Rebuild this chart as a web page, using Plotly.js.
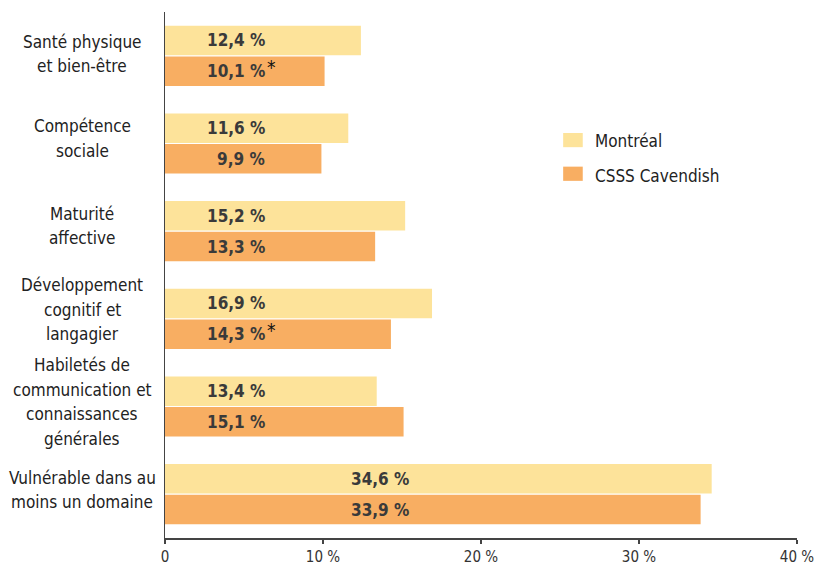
<!DOCTYPE html>
<html>
<head>
<meta charset="utf-8">
<script src="https://cdn.plot.ly/plotly-3.0.1.min.js"></script>
<style>html,body{margin:0;padding:0;background:#fff;}#chart{width:816px;height:566px;}</style>
</head>
<body>
<div id="chart"></div>
<script>
var categories = [
  "Santé physique<br>et bien-être",
  "Compétence<br>sociale",
  "Maturité<br>affective",
  "Développement<br>cognitif et<br>langagier",
  "Habiletés de<br>communication et<br>connaissances<br>générales",
  "Vulnérable dans au<br>moins un domaine"
];
var montreal = [12.4, 11.6, 15.2, 16.9, 13.4, 34.6];
var cavendish = [10.1, 9.9, 13.3, 14.3, 15.1, 33.9];
var cavendishFlag = [true, false, false, true, false, false];
var seriesNames = ["Montréal", "CSSS Cavendish"];
var seriesColors = ["#FDE39A", "#F8AE62"];
var tickVals = [0, 10, 20, 30, 40];
var tickText = ["0", "10 %", "20 %", "30 %", "40 %"];

// layout helpers (not data)
var FONT = "'Liberation Sans Narrow', 'DejaVu Sans Condensed', Arial, sans-serif";
var labelShift = [2, 5, 5, 9, 4.5, 4];
var LINE_H = 24.5;

var yIdx = categories.map(function(c, i){ return i; });
function fmt(v){ return v.toFixed(1).replace('.', ',') + ' %'; }

var traces = [
  {type:'bar', orientation:'h', name:seriesNames[0], x:montreal, y:yIdx,
   marker:{color:seriesColors[0]}, hoverinfo:'x', showlegend:false},
  {type:'bar', orientation:'h', name:seriesNames[1], x:cavendish, y:yIdx,
   marker:{color:seriesColors[1]}, hoverinfo:'x', showlegend:false}
];

var annotations = [];
var shapes = [];
var barOffset = 0.175;
categories.forEach(function(c, i){
  var lines = c.split('<br>');
  var n = lines.length;
  lines.forEach(function(ln, k){
    annotations.push({xref:'paper', yref:'y', x:-0.131, y:i, text:ln, showarrow:false,
      xanchor:'center', yanchor:'middle', align:'center',
      yshift: labelShift[i] + ((n-1)/2 - k) * LINE_H,
      font:{family:FONT, size:17, color:'#222'}});
  });
  var lx = montreal[i] > 30 ? 15.55 : 6.45;
  annotations.push({xref:'x', yref:'y', x:lx, y:i - barOffset, text:'<b>'+fmt(montreal[i])+'</b>',
    showarrow:false, xanchor:'right', yanchor:'middle',
    font:{family:FONT, size:17, color:'#3a3a3a'}});
  annotations.push({xref:'x', yref:'y', x:lx, y:i + barOffset, text:'<b>'+fmt(cavendish[i])+'</b>',
    showarrow:false, xanchor:'right', yanchor:'middle',
    font:{family:FONT, size:17, color:'#3a3a3a'}});
  if (cavendishFlag[i]) {
    annotations.push({xref:'x', yref:'y', x:lx, y:i + barOffset, text:'*',
      showarrow:false, xanchor:'left', yanchor:'middle', yshift:4, xshift:-2,
      font:{family:FONT, size:19, color:'#111'}});
  }
});

// legend drawn as swatches + labels
var legendPos = [{y0:0.743, y1:0.770, ty:0.7552}, {y0:0.679, y1:0.706, ty:0.6888}];
seriesNames.forEach(function(nm, k){
  shapes.push({type:'rect', xref:'paper', yref:'paper', x0:0.630, x1:0.661,
    y0:legendPos[k].y0, y1:legendPos[k].y1, fillcolor:seriesColors[k], line:{width:0}});
  annotations.push({xref:'paper', yref:'paper', x:0.677, y:legendPos[k].ty, text:nm,
    showarrow:false, xanchor:'left', yanchor:'middle',
    font:{family:FONT, size:17, color:'#222'}});
});

var layout = {
  width:816, height:566,
  margin:{l:165, r:19, t:12, b:28},
  paper_bgcolor:'#fff', plot_bgcolor:'#fff',
  barmode:'group', bargap:0.3, bargroupgap:0.04,
  showlegend:false,
  xaxis:{range:[0,40], tickvals:tickVals, ticktext:tickText, showgrid:false, zeroline:false,
    showline:true, linecolor:'#444', linewidth:1.5, ticks:'outside', ticklen:4, tickcolor:'#444',
    tickwidth:1.5, tickfont:{family:FONT, size:15, color:'#333'}, fixedrange:true},
  yaxis:{range:[5.5,-0.5], showticklabels:false, showgrid:false, zeroline:false,
    showline:true, linecolor:'#444', linewidth:1.5, ticks:'', fixedrange:true},
  annotations:annotations,
  shapes:shapes,
  font:{family:FONT}
};

Plotly.newPlot('chart', traces, layout, {displayModeBar:false, staticPlot:true});
</script>
</body>
</html>
